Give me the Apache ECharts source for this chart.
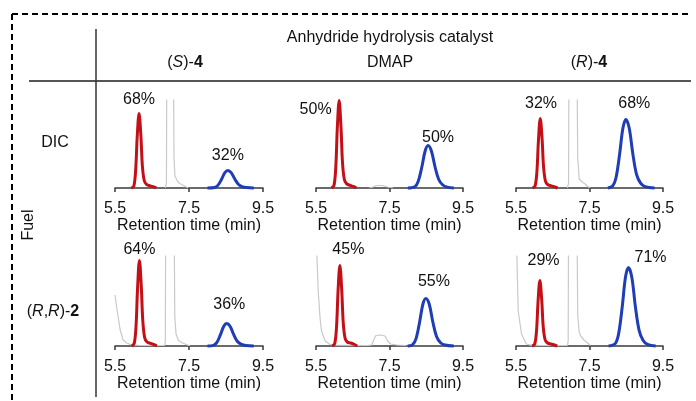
<!DOCTYPE html>
<html>
<head>
<meta charset="utf-8">
<script src="https://cdn.jsdelivr.net/npm/echarts@6/dist/echarts.min.js"></script>
<style>
  html, body { margin: 0; padding: 0; background: #fff; }
  #chart { width: 696px; height: 401px; }
</style>
</head>
<body>
<div id="chart"></div>
<script>
// retention time window shared by every trace
const timeRange = [5.5, 9.5]
const timeStep = 2

// panel order: DIC x (S)-4, DIC x DMAP, DIC x (R)-4, (R,R)-2 x (S)-4, (R,R)-2 x DMAP, (R,R)-2 x (R)-4
const redDicS4 = [[5.94,0],[6.01,2],[6.06,19],[6.10,51],[6.15,74.5],[6.20,52],[6.24,22],[6.29,7.5],[6.35,3.7],[6.45,2.2],[6.55,1.1],[6.62,0]]
const redDicDmap = [[5.92,0],[5.99,2.6],[6.04,22],[6.08,60],[6.13,87.5],[6.18,61],[6.22,26],[6.27,8.8],[6.33,4.4],[6.43,2.6],[6.53,1.3],[6.60,0]]
const redDicR4 = [[5.95,0],[6.02,2.1],[6.07,17],[6.11,47],[6.16,69.5],[6.21,49],[6.25,21],[6.30,7],[6.36,3.5],[6.46,2.1],[6.56,1],[6.63,0]]
const redRrS4 = [[5.95,0],[6.02,2.6],[6.07,21],[6.11,58],[6.16,85.5],[6.21,60],[6.25,26],[6.30,8.6],[6.36,4.3],[6.46,2.6],[6.56,1.3],[6.63,0]]
const redRrDmap = [[5.94,0],[6.01,2.4],[6.06,20],[6.10,55],[6.15,80.5],[6.20,56],[6.24,24],[6.29,8],[6.35,4],[6.45,3],[6.55,1.5],[6.62,0]]
const redRrR4 = [[5.94,0],[6.01,2],[6.06,16],[6.10,44.5],[6.15,65.5],[6.20,46],[6.24,19.7],[6.29,6.5],[6.35,3.3],[6.45,2],[6.55,1],[6.62,0]]

const blueDicS4 = [[8.0,0],[8.19,0.5],[8.28,2.6],[8.38,8.8],[8.47,15.4],[8.55,17.5],[8.64,15.4],[8.74,8.8],[8.84,3.5],[8.95,1.2],[9.07,0.4],[9.25,0]]
const blueDicDmap = [[8.0,0],[8.19,1.3],[8.28,6.4],[8.38,21],[8.47,37],[8.55,42.5],[8.64,37],[8.74,21],[8.84,8.5],[8.95,3],[9.07,0.9],[9.25,0]]
const blueDicR4 = [[8.0,0],[8.13,2],[8.22,10],[8.32,34],[8.41,60],[8.49,68.5],[8.58,60],[8.68,34],[8.78,13.7],[8.89,4.8],[9.01,1.4],[9.27,0]]
const blueRrS4 = [[8.0,0],[8.16,0.7],[8.25,3.4],[8.35,11.3],[8.44,19.8],[8.52,22.5],[8.61,19.8],[8.71,11.3],[8.81,4.5],[8.92,1.6],[9.04,0.5],[9.25,0]]
const blueRrDmap = [[8.0,0],[8.13,1.4],[8.22,7.1],[8.32,24],[8.41,42],[8.49,47.5],[8.58,42],[8.68,24],[8.78,9.5],[8.89,3.3],[9.01,1],[9.25,0]]
const blueRrR4 = [[8.02,0],[8.20,2.4],[8.29,11.8],[8.39,39],[8.48,69],[8.56,78.5],[8.65,69],[8.75,39],[8.85,15.7],[8.96,5.5],[9.08,1.6],[9.3,0]]

const grayDicS4 = [[6.86,0],[6.89,5],[6.9,120],[6.99,900],[7.08,120],[7.095,30],[7.12,12],[7.2,6],[7.3,3.5],[7.4,1.5],[7.48,0]]
const grayDicDmap = [[6.95,0],[7.05,1],[7.15,2.5],[7.3,2.5],[7.45,1],[7.6,0]]
const grayDicR4 = [[6.9,0],[6.93,5],[6.94,120],[7.05,900],[7.16,120],[7.18,30],[7.22,9],[7.3,6],[7.38,4],[7.45,1.5],[7.52,0]]
const grayRrS4 = [[5.5,51],[5.56,35],[5.64,16],[5.72,6],[5.82,3],[5.95,1],[6.2,0.5],[6.84,0.5],[6.86,5],[6.87,120],[6.985,900],[7.1,120],[7.115,30],[7.15,12],[7.21,6],[7.3,3.5],[7.42,1.5],[7.53,0]]
const grayRrDmap = [[5.52,95],[5.56,55],[5.61,28],[5.65,15],[5.75,5],[5.88,1.5],[6.0,0.8],[6.9,0.5],[7.02,1],[7.08,7],[7.13,10.5],[7.25,11],[7.38,10],[7.45,5],[7.53,2],[7.7,1],[7.95,0.5]]
const grayRrR4 = [[5.52,95],[5.56,35],[5.65,12],[5.78,2],[5.9,0.8],[6.2,0.5],[6.9,0.5],[6.92,5],[6.93,120],[7.045,900],[7.16,120],[7.18,30],[7.22,14],[7.26,10],[7.35,6],[7.45,3],[7.52,0.5]]

// enantiomer shares written over the peaks, and where they sit (time, signal)
const redPct = [68, 50, 32, 64, 45, 29]
const bluePct = [32, 50, 68, 36, 55, 71]
const redLabelAt = [[6.15,88],[5.49,78.5],[6.18,84],[6.16,96],[6.38,96.5],[6.25,85]]
const blueLabelAt = [[8.55,32],[8.82,50.5],[8.72,84],[8.59,41.5],[8.71,64.5],[9.16,88.5]]

const redSets = [redDicS4, redDicDmap, redDicR4, redRrS4, redRrDmap, redRrR4]
const blueSets = [blueDicS4, blueDicDmap, blueDicR4, blueRrS4, blueRrDmap, blueRrR4]
const graySets = [grayDicS4, grayDicDmap, grayDicR4, grayRrS4, grayRrDmap, grayRrR4]

const FONT = "'Liberation Sans', Arial, sans-serif"
const INK = '#111'
const RED = '#c40f17'
const BLUE = '#1f3db4'
const GRAY = '#c9c9c9'

// panel layout
const colLeft = [115, 316, 516]
const colWidth = [148, 147, 147]
const rowTop = [100, 256]
const rowHeight = [88, 90]

let grids = [], xAxes = [], yAxes = [], series = []
for (let i = 0; i < 6; i++) {
  let r = Math.floor(i / 3), c = i % 3
  grids.push({ left: colLeft[c], top: rowTop[r], width: colWidth[c], height: rowHeight[r] })
  xAxes.push({
    type: 'value', gridIndex: i, min: timeRange[0], max: timeRange[1], interval: timeStep,
    axisLine: { show: true, onZero: false, lineStyle: { color: '#3a3a3a', width: 1.5 } },
    axisTick: { show: true, length: 4, lineStyle: { color: '#3a3a3a', width: 1.5 } },
    axisLabel: { fontSize: 16, color: INK, fontFamily: FONT, margin: 13, showMinLabel: true, showMaxLabel: true,
      formatter: v => v.toFixed(1) },
    splitLine: { show: false },
    name: 'Retention time (min)', nameLocation: 'middle', nameGap: 29,
    nameTextStyle: { fontSize: 16, color: INK, fontFamily: FONT }
  })
  yAxes.push({ type: 'value', gridIndex: i, min: 0, max: rowHeight[r], show: false })
  series.push({
    type: 'line', xAxisIndex: i, yAxisIndex: i, data: graySets[i], symbol: 'none',
    lineStyle: { color: GRAY, width: 1.2 }, z: 2
  })
  series.push({
    type: 'line', xAxisIndex: i, yAxisIndex: i, data: redSets[i], symbol: 'none', smooth: 0.35, clip: false,
    lineStyle: { color: RED, width: 3 }, z: 3
  })
  series.push({
    type: 'line', xAxisIndex: i, yAxisIndex: i, data: blueSets[i], symbol: 'none', smooth: 0.35, clip: false,
    lineStyle: { color: BLUE, width: 3 }, z: 3
  })
  series.push({
    type: 'scatter', xAxisIndex: i, yAxisIndex: i, symbolSize: 0, clip: false, silent: true,
    itemStyle: { opacity: 1 },
    data: [
      { value: redLabelAt[i], name: redPct[i] + '%' },
      { value: blueLabelAt[i], name: bluePct[i] + '%' }
    ],
    label: { show: true, position: 'inside', formatter: p => p.name, fontSize: 16, color: INK, opacity: 1, fontFamily: FONT },
    z: 4
  })
}

const txt = (x, y, text, extra) => Object.assign({
  type: 'text', x: x, y: y,
  style: Object.assign({ text: text, fill: INK, font: '16px ' + FONT, align: 'center', verticalAlign: 'middle' }, extra || {})
})
const richStyle = {
  i: { fontStyle: 'italic', fontSize: 16, fontFamily: FONT, fill: INK },
  b: { fontWeight: 'bold', fontSize: 16, fontFamily: FONT, fill: INK },
  n: { fontSize: 16, fontFamily: FONT, fill: INK }
}

const graphic = [
  // dashed frame
  { type: 'line', shape: { x1: 12, y1: 14, x2: 691, y2: 14 }, style: { stroke: '#000', lineWidth: 2, lineDash: [6, 4] } },
  { type: 'line', shape: { x1: 12, y1: 14, x2: 12, y2: 401 }, style: { stroke: '#000', lineWidth: 2, lineDash: [6, 4] } },
  // table rules
  { type: 'line', shape: { x1: 29, y1: 81, x2: 691, y2: 81 }, style: { stroke: '#555', lineWidth: 2 } },
  { type: 'line', shape: { x1: 96, y1: 29, x2: 96, y2: 397 }, style: { stroke: '#333', lineWidth: 1.5 } },
  txt(390, 38, 'Anhydride hydrolysis catalyst'),
  txt(185, 63, '{n|(}{i|S}{n|)-}{b|4}', { rich: richStyle }),
  txt(390, 63, 'DMAP'),
  txt(589, 63, '{n|(}{i|R}{n|)-}{b|4}', { rich: richStyle }),
  txt(55, 143, 'DIC'),
  txt(53, 312, '{n|(}{i|R}{n|,}{i|R}{n|)-}{b|2}', { rich: richStyle }),
  Object.assign(txt(0, 0, 'Fuel'), { x: 29, y: 225, rotation: Math.PI / 2 })
]

const chart = echarts.init(document.getElementById('chart'))
chart.setOption({
  animation: false,
  backgroundColor: '#fff',
  grid: grids,
  xAxis: xAxes,
  yAxis: yAxes,
  series: series,
  graphic: graphic
})
</script>
</body>
</html>
